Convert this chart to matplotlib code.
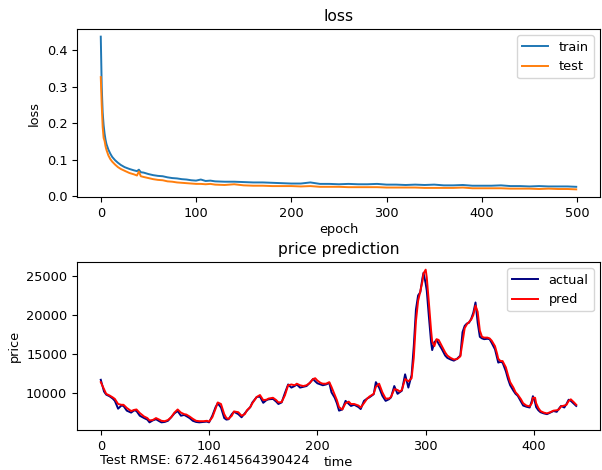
import matplotlib
matplotlib.use("Agg")
import matplotlib.pyplot as plt

plt.rcParams["font.size"] = 9.3
plt.rcParams["lines.linewidth"] = 1.4

# ---------------- loss history ----------------
epochs = [0, 1, 2, 3, 4, 5, 6, 8, 10, 12, 15, 18, 21, 25, 30, 35, 38, 40, 42, 45,
          50, 55, 60, 65, 70, 75, 80, 85, 90, 95, 100, 105, 110, 115, 120, 130,
          140, 150, 160, 170, 180, 190, 200, 210, 220, 230, 240, 250, 260, 270,
          280, 290, 300, 310, 320, 330, 340, 350, 360, 370, 380, 390, 400, 410,
          420, 430, 440, 450, 460, 470, 480, 490, 499]
train_loss = [0.438, 0.30, 0.23, 0.195, 0.172, 0.155, 0.143, 0.128, 0.117, 0.108,
              0.099, 0.092, 0.086, 0.080, 0.075, 0.071, 0.069, 0.073, 0.066, 0.065,
              0.061, 0.058, 0.056, 0.055, 0.052, 0.050, 0.049, 0.047, 0.046, 0.044,
              0.043, 0.046, 0.042, 0.043, 0.041, 0.040, 0.040, 0.039, 0.038, 0.038,
              0.037, 0.036, 0.035, 0.035, 0.038, 0.034, 0.034, 0.033, 0.034, 0.033,
              0.033, 0.034, 0.032, 0.032, 0.031, 0.032, 0.031, 0.032, 0.030, 0.030,
              0.031, 0.029, 0.029, 0.029, 0.030, 0.028, 0.028, 0.027, 0.028, 0.027,
              0.027, 0.027, 0.026]
test_loss = [0.327, 0.25, 0.19, 0.160, 0.152, 0.137, 0.127, 0.112, 0.102, 0.095,
             0.087, 0.080, 0.075, 0.070, 0.064, 0.060, 0.057, 0.068, 0.055, 0.053,
             0.050, 0.047, 0.045, 0.044, 0.041, 0.040, 0.038, 0.037, 0.036, 0.035,
             0.034, 0.034, 0.033, 0.034, 0.032, 0.031, 0.033, 0.030, 0.029, 0.029,
             0.028, 0.028, 0.028, 0.027, 0.028, 0.026, 0.026, 0.026, 0.025, 0.025,
             0.025, 0.025, 0.024, 0.024, 0.024, 0.024, 0.023, 0.023, 0.023, 0.023,
             0.024, 0.022, 0.022, 0.022, 0.022, 0.021, 0.021, 0.021, 0.020, 0.021,
             0.020, 0.020, 0.019]

# ---------------- price prediction ----------------
time_pts = [0, 3, 5, 8, 11, 13, 16, 19, 21, 24, 28, 31, 33, 36, 40, 43, 45, 48, 51, 54,
            56, 59, 62, 65, 68, 71, 74, 77, 79, 82, 85, 88, 91, 95, 98, 100, 103, 106,
            108, 111, 114, 116, 118, 121, 123, 127, 130, 133, 135, 138, 140, 144, 147,
            150, 153, 155, 159, 162, 164, 167, 170, 173, 176, 179, 181, 184, 187, 190,
            193, 196, 198, 200, 203, 205, 208, 211, 213, 216, 218, 220, 223, 226, 229,
            231, 234, 236, 238, 240, 243, 246, 248, 252, 254, 257, 260, 263, 266, 268,
            271, 274, 276, 278, 281, 284, 287, 289, 291, 293, 295, 297, 298, 300, 301,
            303, 305, 306, 308, 310, 312, 315, 318, 320, 323, 326, 329, 332, 334, 336,
            338, 340, 342, 344, 346, 348, 350, 352, 354, 357, 359, 361, 364, 366, 367,
            369, 371, 374, 376, 378, 381, 383, 385, 388, 390, 393, 396, 398, 399, 401,
            402, 404, 406, 409, 412, 415, 418, 421, 423, 425, 428, 430, 432, 434, 437,
            439]
actual = [11700, 10200, 9800, 9600, 9300, 9000, 8000, 8400, 8350, 7750, 7500, 7800,
          7700, 7100, 6800, 6600, 6250, 6500, 6650, 6400, 6250, 6300, 6450, 6900, 7400,
          7700, 7100, 7200, 7050, 6800, 6450, 6300, 6250, 6300, 6350, 6250, 7100, 8200,
          8700, 8150, 6800, 6600, 6650, 7300, 7600, 7300, 6900, 7400, 7750, 8200, 8800,
          9500, 9550, 8750, 9100, 9200, 9250, 8900, 8600, 8800, 10000, 11100, 10700,
          10900, 11100, 10700, 10800, 10900, 11300, 11800, 11500, 11250, 11100, 11000,
          11100, 11300, 10100, 9400, 8700, 7750, 7900, 9000, 8600, 8350, 8500, 8350,
          8200, 7950, 9000, 9300, 9450, 9850, 11400, 10700, 9650, 9000, 9200, 9450,
          10900, 9900, 10100, 10300, 12400, 10700, 12300, 16000, 20700, 22500, 22900,
          24700, 25400, 24000, 23100, 19700, 16500, 15500, 16500, 16800, 16300, 15600,
          14800, 14500, 14300, 14150, 14400, 14800, 17800, 18600, 18900, 19000, 19500,
          20300, 21600, 19000, 17200, 17000, 16900, 16950, 16900, 16400, 15600, 14500,
          13900, 14000, 13900, 12800, 11800, 11000, 10300, 9900, 9650, 8900, 8400, 8250,
          8150, 9000, 9600, 8800, 8200, 7800, 7550, 7400, 7300, 7500, 7700, 7600, 8000,
          8350, 8150, 8600, 9150, 9000, 8600, 8350]
pred = [11400, 10500, 9900, 9700, 9450, 9250, 8600, 8500, 8500, 8100, 7700, 7850,
        7900, 7450, 7000, 6800, 6500, 6550, 6800, 6600, 6450, 6400, 6550, 6900, 7500,
        7900, 7500, 7300, 7250, 7000, 6700, 6450, 6400, 6400, 6450, 6350, 6900, 8000,
        8800, 8600, 7300, 6800, 6700, 7100, 7650, 7550, 7100, 7300, 7800, 8200, 8700,
        9500, 9750, 9100, 9150, 9300, 9400, 9100, 8800, 8850, 9700, 11000, 11100,
        11000, 11200, 11000, 10900, 11000, 11300, 11800, 11900, 11600, 11300, 11200,
        11200, 11400, 10800, 9800, 9100, 8200, 7900, 8700, 8900, 8600, 8600, 8500,
        8400, 8150, 8700, 9300, 9550, 9900, 10800, 11200, 10100, 9300, 9300, 9500,
        10500, 10400, 10200, 10400, 11800, 11500, 11900, 14500, 19200, 21800, 23000,
        24300, 25300, 25800, 24800, 21500, 18000, 16600, 16000, 16900, 16800, 16000,
        15200, 14800, 14500, 14300, 14350, 14700, 16500, 18300, 18800, 19100, 19400,
        20000, 21200, 20400, 18000, 17200, 17100, 17100, 17000, 16700, 16000, 15000,
        14400, 14100, 14100, 13300, 12300, 11400, 10700, 10100, 9800, 9200, 8700, 8400,
        8300, 8700, 9400, 9400, 8700, 8100, 7700, 7500, 7400, 7550, 7750, 7800, 7900,
        8300, 8400, 8500, 9000, 9200, 8800, 8500]
rmse = 672.4614564390424

W, H = 602, 470
fig = plt.figure(figsize=(W / 100, H / 100), dpi=100)

# top: loss
ax1 = fig.add_axes([77 / W, (H - 197) / H, 523 / W, 168 / H])
ax1.plot(epochs, train_loss, label="train")
ax1.plot(epochs, test_loss, label="test")
ax1.set_title("loss")
ax1.set_xlabel("epoch", labelpad=2)
ax1.set_ylabel("loss")
ax1.legend(loc="upper right")

# bottom: price prediction
ax2 = fig.add_axes([77 / W, (H - 430) / H, 523 / W, 168 / H])
ax2.plot(time_pts, actual, color="navy", label="actual")
ax2.plot(time_pts, pred, color="red", label="pred")
ax2.set_title("price prediction")
ax2.set_xlabel("time", labelpad=2)
ax2.set_ylabel("price")
ax2.legend(loc="upper right")

fig.text(100 / W, (H - 461) / H, "Test RMSE: " + str(rmse), va="center")

fig.savefig("out.png", dpi=100)
